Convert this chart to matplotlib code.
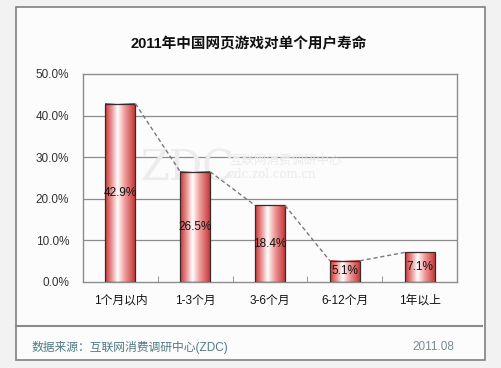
import numpy as np
import matplotlib
matplotlib.use('Agg')
import matplotlib.pyplot as plt
from matplotlib.colors import LinearSegmentedColormap
from matplotlib.patches import Rectangle
from matplotlib.lines import Line2D

plt.rcParams['font.family'] = ['Liberation Sans', 'Noto Sans CJK SC', 'DejaVu Sans']

# 数据
categories = ['1个月以内', '1-3个月', '3-6个月', '6-12个月', '1年以上']
values = [42.9, 26.5, 18.4, 5.1, 7.1]
yticks = [0, 10, 20, 30, 40, 50]
title = '2011年中国网页游戏对单个用户寿命'
source = '数据来源：互联网消费调研中心(ZDC)'
date = '2011.08'

fig = plt.figure(figsize=(5.01, 3.68), dpi=100)
fig.patch.set_facecolor('#f2f2f2')

# 外框
fig.add_artist(Rectangle((16 / 501, 1 - 360 / 368), 469 / 501, 353 / 368,
                         transform=fig.transFigure, facecolor='#fcfcfc',
                         edgecolor='#808080', linewidth=1.2, zorder=-5))
fig.add_artist(Line2D([16 / 501, 482 / 501], [1 - 326 / 368, 1 - 326 / 368],
                      transform=fig.transFigure, color='#8a8a8a', linewidth=1.5))

fig.text(0.496, 1 - 44 / 368, title, ha='center', va='center',
         fontsize=10.5, fontweight='bold', color='#111111')
fig.text(32 / 501, 1 - 347 / 368, source, ha='left', va='center',
         fontsize=8.5, color='#4f7a86')
fig.text(454 / 501, 1 - 347 / 368, date, ha='right', va='center',
         fontsize=8.5, color='#7a8a90')

ax = fig.add_axes([83 / 501, 1 - 282 / 368, 374 / 501, 208 / 368])
ax.set_facecolor('#fcfcfc')

x = np.arange(len(categories))
w = 0.4

# 网格
for t in yticks[1:-1]:
    ax.axhline(t, color='#8c8c8c', linewidth=0.9, zorder=1)

# 水印
ax.text(0.26, 27.3, 'ZDC', fontsize=30, family='DejaVu Serif', color='#ececec',
        ha='left', va='center', zorder=1)
ax.text(1.45, 29.2, '互联网消费调研中心', fontsize=9, color='#ebebeb',
        ha='left', va='center', zorder=1, family=['Noto Sans CJK SC'])
ax.text(1.45, 25.8, 'zdc.zol.com.cn', fontsize=8.5, family='DejaVu Serif',
        color='#ebebeb', ha='left', va='center', zorder=1)

# 渐变柱形
cmap = LinearSegmentedColormap.from_list(
    'bar', [(0, '#c53a3a'), (0.2, '#e88a8a'), (0.42, '#ffffff'),
            (0.65, '#f0a0a0'), (1, '#c53a3a')])
grad = np.linspace(0, 1, 100).reshape(1, -1)
for xi, v in zip(x, values):
    ax.imshow(grad, cmap=cmap, aspect='auto', extent=[xi - w / 2, xi + w / 2, 0, v],
              zorder=2, interpolation='bilinear')
    ax.add_patch(Rectangle((xi - w / 2, 0), w, v, fill=False,
                           edgecolor='#3a2a2a', linewidth=0.9, zorder=3))
    ax.text(xi, v / 2, f'{v:.1f}%', ha='center', va='center', fontsize=8.5,
            color='#111111', zorder=4)

# 系列线
for i in range(len(values) - 1):
    ax.plot([x[i] + w / 2, x[i + 1] - w / 2], [values[i], values[i + 1]],
            linestyle=(0, (3, 2)), color='#7a7a7a', linewidth=1, zorder=3)

ax.set_xlim(-0.5, len(categories) - 0.5)
ax.set_ylim(0, 50)

ax.set_yticks(yticks)
ax.set_yticklabels([f'{t:.1f}%' for t in yticks], fontsize=8.5, color='#333333')
ax.tick_params(axis='y', length=0, pad=10)
ax.set_xticks(x)
ax.set_xticklabels(categories, fontsize=8.5, color='#111111')
ax.tick_params(axis='x', length=0, pad=9)
ax.set_xticks(np.arange(0.5, len(categories) - 0.5), minor=True)
ax.tick_params(axis='x', which='minor', direction='in', length=4, color='#888888')

for s in ax.spines.values():
    s.set_color('#8c8c8c')
    s.set_linewidth(1)

fig.savefig('out.png', dpi=100, facecolor=fig.get_facecolor())
